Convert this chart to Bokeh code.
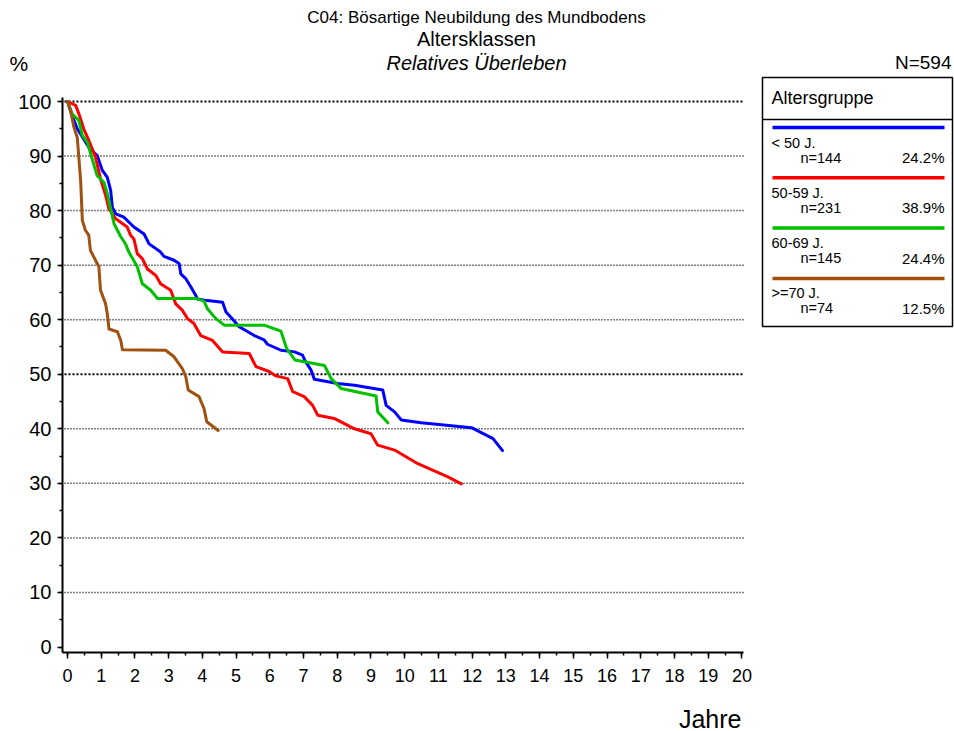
from bokeh.plotting import figure
from bokeh.models import Range1d, SingleIntervalTicker, Label, LinearAxis
from bokeh.embed import file_html
from bokeh.resources import INLINE

# ---------------- data ----------------
years_lt50 = [0, 0.12, 0.29, 0.63, 0.88, 1.03, 1.18, 1.28, 1.33, 1.43, 1.67, 1.97, 2.27, 2.42, 2.56,
              2.76, 2.86, 3.16, 3.31, 3.36, 3.51, 3.66, 3.8, 3.85, 4.15, 4.6, 4.7, 4.84, 5.09, 5.54,
              5.83, 5.93, 6.33, 6.73, 6.97, 7.05, 7.22, 7.32, 8.01, 8.51, 9.35, 9.45, 9.7, 9.9,
              10.49, 11.98, 12.62, 12.9]
surv_lt50 = [100, 97.7, 95, 91.6, 90.1, 87.4, 86.1, 83.7, 80.6, 79.4, 78.8, 77, 75.7, 73.9, 73.3,
             72.4, 71.6, 70.9, 70.3, 68.4, 67.5, 66, 64.5, 63.8, 63.5, 63.2, 61.4, 60.5, 58.7, 57.1,
             56.3, 55.5, 54.4, 54.1, 53.5, 52.4, 50.8, 49.1, 48.3, 48.0, 47.1, 44.3, 43.1, 41.6,
             41.1, 40.2, 38.2, 36.0]

years_50_59 = [0, 0.24, 0.34, 0.48, 0.63, 0.83, 0.98, 1.13, 1.23, 1.43, 1.77, 1.87, 1.97, 2.07, 2.22,
               2.37, 2.62, 2.76, 3.06, 3.21, 3.41, 3.56, 3.75, 3.95, 4.3, 4.6, 5.39, 5.59, 5.98, 6.18,
               6.53, 6.68, 7.02, 7.27, 7.42, 7.91, 8.51, 9.0, 9.2, 9.7, 10.39, 11.28, 11.68]
surv_50_59 = [100, 99.3, 97.7, 95, 92.9, 89.8, 85.8, 82.8, 80.3, 78.5, 77, 75.5, 74.8, 72.1, 71.2,
              69.3, 68.1, 66.6, 65.4, 62.9, 61.7, 60.2, 59.3, 57.1, 56.2, 54.1, 53.8, 51.4, 50.5, 49.7,
              49.2, 46.8, 45.9, 44.3, 42.5, 41.9, 40.0, 39.1, 37.0, 36.1, 33.6, 31.2, 29.9]

years_60_69 = [0, 0.14, 0.34, 0.44, 0.59, 0.73, 0.88, 1.08, 1.18, 1.38, 1.58, 1.72, 1.82, 2.07, 2.22,
               2.47, 2.67, 3.8, 4.05, 4.15, 4.4, 4.65, 5.83, 6.33, 6.5, 6.75, 7.62, 7.82, 8.11, 9.15,
               9.2, 9.5]
surv_60_69 = [100, 97.7, 96.5, 93.8, 92.5, 89.5, 86.4, 85.2, 83.1, 77.6, 75.2, 73.9, 72.4, 69.7, 66.6,
              65.4, 63.9, 63.9, 63.4, 62.0, 60.2, 59.0, 59.0, 57.9, 54.7, 52.6, 51.6, 49.2, 47.4, 46.0,
              43.1, 41.1]

years_ge70 = [0, 0.09, 0.19, 0.29, 0.39, 0.44, 0.53, 0.63, 0.68, 0.83, 0.93, 0.98, 1.13, 1.18, 1.23,
              1.48, 1.58, 1.63, 2.91, 3.16, 3.41, 3.51, 3.58, 3.9, 4.05, 4.13, 4.47]
surv_ge70 = [100, 98.4, 95.3, 93.4, 85.5, 78.2, 76.4, 75.5, 72.7, 70.9, 69.7, 65.4, 62.9, 61.1, 58.3,
             57.8, 56.2, 54.5, 54.4, 53.2, 51.0, 49.5, 47.1, 45.9, 43.7, 41.3, 39.7]

group_labels = ["< 50 J.", "50-59 J.", "60-69 J.", ">=70 J."]
group_counts = [144, 231, 145, 74]
group_shares = ["24.2%", "38.9%", "24.4%", "12.5%"]
group_colors = ["#0000FF", "#FF0000", "#00C000", "#A0500F"]

grid_levels = [10, 20, 30, 40, 60, 70, 80, 90]
grid_levels_bold = [50, 100]

title_1 = "C04: Bösartige Neubildung des Mundbodens"
title_2 = "Altersklassen"
title_3 = "Relatives Überleben"
total_n = "N=594"
y_unit = "%"
x_title = "Jahre"
legend_title = "Altersgruppe"

series = [(years_lt50, surv_lt50), (years_50_59, surv_50_59),
          (years_60_69, surv_60_69), (years_ge70, surv_ge70)]

# ---------------- geometry (canvas pixels -> data) ----------------
W, H = 954, 731
X0_PX, PX_PER_YEAR = 67.0, 33.72
Y0_PX, PX_PER_PCT = 646.5, 5.455
AXIS_X_PX, AXIS_Y_PX = 62, 652


def dx(px):
    return (px - X0_PX) / PX_PER_YEAR


def dy(py):
    return (Y0_PX - py) / PX_PER_PCT


FONT = "Liberation Sans"

p = figure(width=W, height=H,
           x_range=Range1d(dx(0), dx(W)),
           y_range=Range1d(dy(H), dy(0)),
           x_axis_type=None, y_axis_type=None,
           output_backend="svg", toolbar_location=None,
           min_border_left=0, min_border_right=0,
           min_border_top=0, min_border_bottom=0)
p.outline_line_color = None
p.xgrid.visible = False
p.ygrid.visible = False

x_axis_end = dx(743)
y_axis_end = dy(97)

xaxis = LinearAxis(ticker=SingleIntervalTicker(interval=1, num_minor_ticks=2),
                   bounds=(dx(AXIS_X_PX), x_axis_end), fixed_location=dy(AXIS_Y_PX))
xaxis.axis_line_width = 2
xaxis.axis_line_color = "black"
xaxis.major_tick_out = 6
xaxis.major_tick_in = 0
xaxis.minor_tick_out = 3
xaxis.minor_tick_in = 0
xaxis.major_tick_line_width = 1.5
xaxis.minor_tick_line_width = 1.5
xaxis.major_label_standoff = 10
xaxis.major_label_text_font = FONT
xaxis.major_label_text_font_size = "18px"
xaxis.major_label_text_color = "black"
p.add_layout(xaxis, "below")

yaxis = LinearAxis(ticker=SingleIntervalTicker(interval=10, num_minor_ticks=2),
                   bounds=(dy(AXIS_Y_PX), y_axis_end), fixed_location=dx(AXIS_X_PX))
yaxis.axis_line_width = 2
yaxis.axis_line_color = "black"
yaxis.major_tick_out = 5
yaxis.major_tick_in = 0
yaxis.minor_tick_out = 3
yaxis.minor_tick_in = 0
yaxis.major_tick_line_width = 1.5
yaxis.minor_tick_line_width = 1.5
yaxis.major_label_standoff = 6
yaxis.major_label_text_font = FONT
yaxis.major_label_text_font_size = "20px"
yaxis.major_label_text_color = "black"
p.add_layout(yaxis, "left")

# dotted grid lines
gx0 = dx(AXIS_X_PX + 2)
p.segment(x0=[gx0] * len(grid_levels), y0=grid_levels, x1=[x_axis_end] * len(grid_levels),
          y1=grid_levels, line_color="black", line_width=1.5, line_dash="1 2")
p.segment(x0=[gx0] * len(grid_levels_bold), y0=grid_levels_bold,
          x1=[x_axis_end] * len(grid_levels_bold), y1=grid_levels_bold,
          line_color="black", line_width=2, line_dash="2 2")

# survival curves
for (xs, ys), c in zip(series, group_colors):
    p.line(xs, ys, line_color=c, line_width=3, line_join="round", line_cap="round")


def add_text(px, py, txt, size, align="left", style="normal"):
    p.add_layout(Label(x=dx(px), y=dy(py), text=txt, text_font=FONT,
                       text_font_size=size, text_align=align, text_baseline="middle",
                       text_font_style=style, text_color="black"))


# titles
add_text(476, 17, title_1, "17px", "center")
add_text(476, 38, title_2, "20px", "center")
add_text(476, 62, title_3, "20px", "center", "italic")
add_text(9, 63, y_unit, "21px")
add_text(951, 62, total_n, "19px", "right")
add_text(741, 718, x_title, "25px", "right")

# legend
LB_L, LB_R, LB_T, LB_B = 762, 952, 77, 326
p.quad(left=dx(LB_L), right=dx(LB_R), top=dy(LB_T), bottom=dy(LB_B),
       fill_color="white", line_color="black", line_width=1.5)
p.segment(x0=[dx(LB_L)], y0=[dy(119)], x1=[dx(LB_R)], y1=[dy(119)],
          line_color="black", line_width=1.5)
add_text(771, 97, legend_title, "18px")
STEP = 50.3
for i, (lab, n, sh, c) in enumerate(zip(group_labels, group_counts, group_shares, group_colors)):
    ly = 127 + STEP * i
    p.segment(x0=[dx(772)], y0=[dy(ly)], x1=[dx(944)], y1=[dy(ly)], line_color=c, line_width=3.5)
    add_text(771, ly + 15, lab, "14.5px")
    add_text(800, ly + 30, f"n={n}", "14.5px")
    add_text(944, ly + 30, sh, "15px", "right")

open("out.html", "w").write(file_html(p, INLINE))
